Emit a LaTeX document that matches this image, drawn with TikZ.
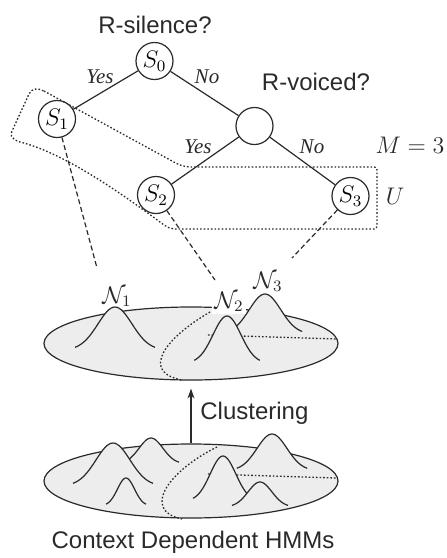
\documentclass[tikz,border=0pt]{standalone}
\usepackage{fontspec}
\newfontfamily\lblfont{Liberation Sans}
\newfontfamily\ynfont{Liberation Serif}
\usetikzlibrary{shapes.geometric,arrows.meta}
\definecolor{linec}{HTML}{2A2A2A}
\definecolor{platefill}{HTML}{EDEDED}
\newcommand{\gbump}[4]{\path[gstyle] plot[domain=-40:40,samples=41,smooth] ({#1+(#3)*(\x)},{#2+(#4)*43*(1-exp(-((\x)*(\x))/578))});}
\begin{document}
\begin{tikzpicture}[x=0.5pt,y=-0.5pt,
  state/.style={circle,draw=linec,line width=0.6pt,minimum size=18.5pt,inner sep=0pt,font=\fontsize{12}{14}\selectfont},
  q/.style={font=\lblfont\fontsize{12}{14}\selectfont,anchor=base,inner sep=0pt,text=linec},
  yn/.style={font=\ynfont\itshape\fontsize{10.5}{12}\selectfont,anchor=base,inner sep=0pt,text=linec},
  mlab/.style={font=\fontsize{12}{14}\selectfont,anchor=base,inner sep=0pt,text=linec},
  tree/.style={line width=0.6pt,draw=linec},
  dashconn/.style={line width=0.6pt,draw=linec,dash pattern=on 2.5pt off 1.5pt},
  dotline/.style={line width=0.65pt,draw=linec,dash pattern=on 0.8pt off 1pt},
  plate/.style={ellipse,draw=linec,fill=platefill,line width=0.6pt,inner sep=0pt},
  gstyle/.style={fill=platefill,draw=linec,line width=0.6pt}]
\useasboundingbox (0,0) rectangle (446,558);

% ---------------- tree ----------------
\node[state] (S0) at (154.5,61) {$S_0$};
\node[state] (S1) at (57,119) {$S_1$};
\node[state] (C)  at (254.5,126) {};
\node[state] (S2) at (156,195) {$S_2$};
\node[state] (S3) at (350.5,196) {$S_3$};
\draw[tree] (S0) -- (S1);
\draw[tree] (S0) -- (C);
\draw[tree] (C) -- (S2);
\draw[tree] (C) -- (S3);

\node[q] (q0) at (155,33) {R-silence?};
\node[q] (q1) at (316,90) {R-voiced?};
\node[yn] (y0) at (100,83) {Yes};
\node[yn] (n0) at (207,83) {No};
\node[yn] (y1) at (198,153) {Yes};
\node[yn] (n1) at (312,153) {No};
\node[mlab] (M) at (410,153) {$M=3$};
\node[mlab] (U) at (395,204) {$U$};

% dotted region (S1 + U box)
\draw[dotline] (44,91) -- (172,161) .. controls (180,165.5) and (184,167) .. (192,167)
  -- (371,167) .. controls (377,167) .. (377,173) -- (377,223) .. controls (377,229) .. (371,229)
  -- (178,229) .. controls (170,229) and (168,228) .. (160,222)
  .. controls (110,185) and (60,152) .. (20,142)
  .. controls (10,139) and (10,134) .. (13,129) -- (29,94)
  .. controls (32,88) and (38,88) .. cycle;

% dashed links to the Gaussians
\coordinate (e1) at (97,268);
\coordinate (e2) at (215,280);
\coordinate (e3) at (292,258);
\draw[dashconn] (S1) -- (e1);
\draw[dashconn] (S2) -- (e2);
\draw[dashconn] (S3) -- (e3);

% ---------------- upper plate ----------------
\node[plate,minimum width=147pt,minimum height=36.5pt] (E1) at (191,343.5) {};
\draw[dotline] (210,312) .. controls (165,338) and (140,372) .. (182,380);
\draw[dotline] (208,335) -- (337,339);
\gbump{115}{307}{1}{1}
\gbump{265}{294}{0.93}{0.93}
\gbump{227}{316}{0.82}{1.1}
\node[mlab] (N1) at (117,303) {$\mathcal{N}_1$};
\node[mlab,fill=white,inner sep=1pt] (N2) at (229,308) {$\mathcal{N}_2$};
\node[mlab] (N3) at (268,288) {$\mathcal{N}_3$};

% ---------------- lower plate ----------------
\node[plate,minimum width=147pt,minimum height=37pt] (E2) at (191,481) {};
\draw[dotline] (217,447) .. controls (170,470) and (140,510) .. (182,519);
\draw[dotline] (208,474) -- (336,478);
\gbump{272}{434}{0.88}{0.85}
\gbump{223}{456}{0.75}{1.05}
\gbump{260}{482}{0.7}{0.58}
\gbump{151}{438}{0.7}{0.6}
\gbump{113}{443}{1}{1}
\gbump{126}{478}{0.5}{0.65}

% arrow
\draw[line width=0.6pt,draw=linec,-{Stealth[length=5pt,width=3.5pt]},shorten >=4pt] (E2) -- (E1);
\node[q,anchor=base west] (cl) at (200,419) {Clustering};
\node[q] (cd) at (193,548) {Context Dependent HMMs};
\end{tikzpicture}
\end{document}
